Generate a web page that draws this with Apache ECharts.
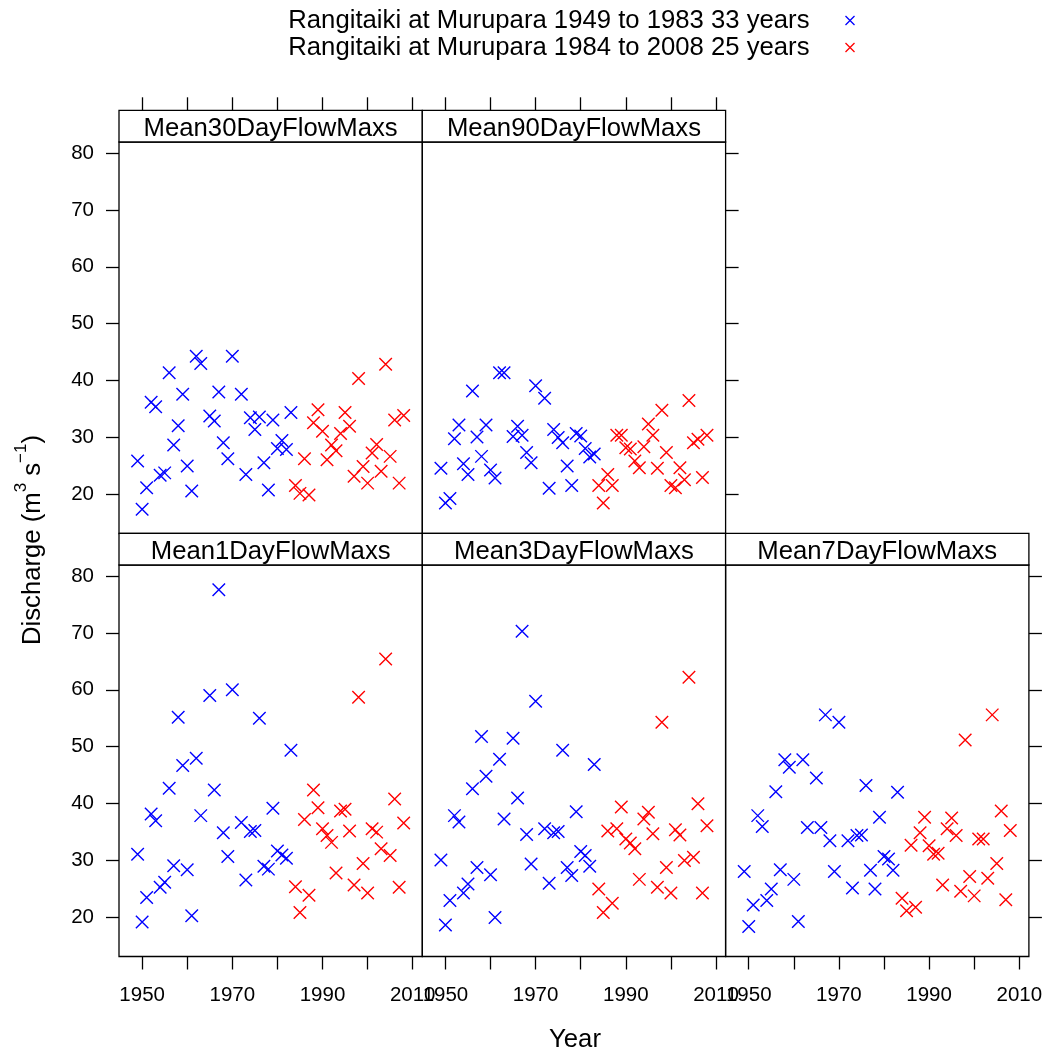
<!DOCTYPE html>
<html>
<head>
<meta charset="utf-8">
<script src="https://cdn.jsdelivr.net/npm/echarts@6/dist/echarts.min.js"></script>
<style>html,body{margin:0;padding:0;background:#fff}#c{width:1052px;height:1054px}</style>
</head>
<body>
<div id="c"></div>
<script>
// ---- data ----
const nameA = 'Rangitaiki at Murupara 1949 to 1983 33 years';
const nameB = 'Rangitaiki at Murupara 1984 to 2008 25 years';
const yearsA = [1949,1950,1951,1952,1953,1954,1955,1956,1957,1958,1959,1960,1961,1962,1963,
                1965,1966,1967,1968,1969,1970,
                1972,1973,1974,1975,1976,1977,1978,1979,1980,1981,1982,1983];
const yearsB = [1984,1985,1986,1987,1988,1989,1990,1991,1992,1993,1994,1995,1996,1997,1998,
                1999,2000,2001,2002,2003,2004,2005,2006,2007,2008];
const panelNames = ['Mean30DayFlowMaxs','Mean90DayFlowMaxs','Mean1DayFlowMaxs','Mean3DayFlowMaxs','Mean7DayFlowMaxs'];
const mean30A = [25.9,17.4,21.2,36.2,35.4,23.4,23.8,41.4,28.7,32.1,37.6,25.0,20.6,44.3,43.0,
                 33.8,32.9,38.0,29.1,26.3,44.3,
                 37.6,23.5,33.5,31.4,33.6,25.6,20.8,33.1,28.1,29.5,27.9,34.4];
const mean30B = [21.6,20.2,26.3,19.9,32.6,34.9,31.1,26.1,28.7,27.7,30.7,34.4,32.0,23.2,40.4,
                 24.9,22.0,27.3,28.8,24.1,42.9,26.7,33.1,22.0,33.9];
const mean90A = [24.6,18.5,19.3,29.8,32.2,25.4,23.5,38.2,30.1,26.7,32.2,24.3,22.9,41.4,41.4,
                 30.2,32.0,30.4,27.4,25.6,39.1,
                 36.9,21.1,31.4,30.0,29.1,25.0,21.6,30.7,30.3,28.1,26.6,27.1];
const mean90B = [21.6,18.5,23.5,21.6,30.4,30.4,28.2,28.0,25.9,24.7,28.4,32.4,30.4,24.6,34.8,
                 27.4,21.6,21.2,24.7,22.6,36.5,29.1,29.7,23.0,30.4];
const mean1A = [31.1,19.2,23.5,38.2,37.0,25.3,26.2,42.7,29.1,55.2,46.7,28.4,20.3,48.0,37.9,
                59.0,42.4,77.6,34.9,30.7,60.0,
                36.7,26.6,35.1,35.3,55.0,29.0,28.5,39.2,31.7,31.0,30.4,49.4];
const mean1B = [25.4,20.9,37.2,23.9,42.4,39.3,35.6,34.4,33.2,27.8,38.7,39.0,35.2,25.7,58.7,
                29.5,24.3,35.6,35.0,32.1,65.4,30.9,40.8,25.3,36.6];
const mean3A = [30.1,18.7,23.0,37.9,36.8,24.3,25.9,42.6,28.8,51.8,44.8,27.5,20.0,47.8,37.3,
                51.5,41.0,70.3,34.6,29.4,58.0,
                35.6,26.0,34.9,35.1,49.4,28.8,27.4,38.6,31.6,30.9,29.0,46.9];
const mean3B = [25.0,20.9,35.2,22.5,35.6,39.4,33.8,33.1,32.1,26.7,37.3,38.5,34.7,25.3,54.3,
                28.8,24.3,35.4,34.5,30.0,62.2,30.6,40.0,24.3,36.1];
const mean7A = [28.1,18.4,22.2,37.9,36.0,23.0,25.0,42.1,28.4,47.7,46.4,26.7,19.3,47.7,35.8,
                44.5,35.8,55.6,33.5,28.1,54.3,
                33.5,25.2,34.4,34.5,43.2,28.3,25.0,37.6,30.7,30.3,28.3,42.0];
const mean7B = [23.4,21.2,32.7,21.8,34.9,37.6,32.6,31.1,31.3,25.7,35.6,37.5,34.4,24.6,51.2,
                27.2,23.8,33.8,33.8,26.9,55.6,29.5,38.7,23.1,35.3];
const xTicks = [1950,1960,1970,1980,1990,2000,2010];
const xTickLabels = [1950,1970,1990,2010];
const yTicks = [20,30,40,50,60,70,80];

// ---- layout / style ----
const FONT = '"Liberation Sans", Arial, Helvetica, sans-serif';
const X_MIN = 1944.87, X_MAX = 2012.13, Y_MIN = 13.15, Y_MAX = 81.93;
const PW = 303.3, PH = 391.5, STRIP = 31.7;
const colL = [119, 422.3, 725.6];
const rowT = [142, 565];
const TICK = 13, LW = 1.3;
const BIG = 25.7;
const CROSS = 'path://M0,0L10,10M10,0L0,10';

const panels = [
  {A: mean30A, B: mean30B, col: 0, row: 0, left: true,  right: false, top: true,  bottom: false},
  {A: mean90A, B: mean90B, col: 1, row: 0, left: false, right: true,  top: true,  bottom: false},
  {A: mean1A,  B: mean1B,  col: 0, row: 1, left: true,  right: false, top: false, bottom: true},
  {A: mean3A,  B: mean3B,  col: 1, row: 1, left: false, right: false, top: false, bottom: true},
  {A: mean7A,  B: mean7B,  col: 2, row: 1, left: false, right: true,  top: false, bottom: true}
];

const grids = [], xAxes = [], yAxes = [], series = [], graphics = [];
const tickStyle = {color: '#000', width: LW};
const labelStyle = {fontSize: 20.5, fontFamily: FONT, color: '#000', formatter: v => String(v)};

panels.forEach((p, i) => {
  const L = colL[p.col], T = rowT[p.row];
  grids.push({left: L, top: T, width: PW, height: PH, show: true, borderColor: '#000',
              borderWidth: LW, backgroundColor: 'transparent', containLabel: false, outerBoundsMode: 'none'});
  const xIdx = xAxes.length, yIdx = yAxes.length;
  xAxes.push({type: 'value', gridIndex: i, position: 'bottom', min: X_MIN, max: X_MAX,
    splitLine: {show: false}, axisLine: {show: false, onZero: false},
    axisTick: {show: p.bottom, length: TICK, customValues: xTicks, lineStyle: tickStyle},
    axisLabel: {show: p.bottom, customValues: xTickLabels, margin: 28, ...labelStyle}});
  yAxes.push({type: 'value', gridIndex: i, position: 'left', min: Y_MIN, max: Y_MAX,
    splitLine: {show: false}, axisLine: {show: false, onZero: false},
    axisTick: {show: p.left, length: TICK, customValues: yTicks, lineStyle: tickStyle},
    axisLabel: {show: p.left, customValues: yTicks, margin: 25, ...labelStyle}});
  if (p.top) {
    xAxes.push({type: 'value', gridIndex: i, position: 'top', offset: STRIP, min: X_MIN, max: X_MAX,
      splitLine: {show: false}, axisLine: {show: false, onZero: false},
      axisTick: {show: true, length: TICK, customValues: xTicks, lineStyle: tickStyle},
      axisLabel: {show: false}});
  }
  if (p.right) {
    yAxes.push({type: 'value', gridIndex: i, position: 'right', min: Y_MIN, max: Y_MAX,
      splitLine: {show: false}, axisLine: {show: false, onZero: false},
      axisTick: {show: true, length: TICK, customValues: yTicks, lineStyle: tickStyle},
      axisLabel: {show: false}});
  }
  [[p.A, yearsA, nameA, '#0000ff'], [p.B, yearsB, nameB, '#ff0000']].forEach(([vals, yrs, nm, col]) => {
    series.push({type: 'scatter', name: nm, xAxisIndex: xIdx, yAxisIndex: yIdx,
      data: yrs.map((y, k) => [y, vals[k]]),
      symbol: CROSS, symbolSize: 12.5,
      itemStyle: {color: 'none', borderColor: col, borderWidth: 1.4, opacity: 1},
      emphasis: {disabled: true}, silent: true, z: 3});
  });
  // strip
  graphics.push({type: 'rect', z: 10, shape: {x: L, y: T - STRIP, width: PW, height: STRIP},
    style: {fill: '#fff', stroke: '#000', lineWidth: LW}});
  graphics.push({type: 'text', z: 11, x: L + PW / 2, y: T - STRIP / 2 + 3,
    style: {text: panelNames[i], fontSize: BIG, fontFamily: FONT, fill: '#000', align: 'center', verticalAlign: 'middle'}});
});

graphics.push({type: 'text', z: 11, x: 575, y: 1040,
  style: {text: 'Year', fontSize: BIG, fontFamily: FONT, fill: '#000', align: 'center', verticalAlign: 'middle'}});
graphics.push({type: 'text', z: 11, x: 33, y: 540, rotation: Math.PI / 2,
  style: {text: 'Discharge (m{sup|3} s{sup|\u22121})', fontSize: BIG, fontFamily: FONT, fill: '#000',
    align: 'center', verticalAlign: 'middle', lineHeight: 40,
    rich: {sup: {fontSize: 17, fontFamily: FONT, fill: '#000', verticalAlign: 'top', lineHeight: 17}}}});

const chart = echarts.init(document.getElementById('c'), null, {renderer: 'canvas'});
chart.setOption({
  animation: false,
  backgroundColor: '#fff',
  legend: {
    orient: 'vertical', align: 'right', right: 1052 - 857, top: 7, padding: 0,
    itemWidth: 9, itemHeight: 9, itemGap: 0, selectedMode: false,
    textStyle: {fontSize: BIG, fontFamily: FONT, color: '#000', lineHeight: 27, padding: [0, 31, 0, 0]},
    data: [
      {name: nameA, icon: CROSS, itemStyle: {color: 'none', borderColor: '#0000ff', borderWidth: 1.3}},
      {name: nameB, icon: CROSS, itemStyle: {color: 'none', borderColor: '#ff0000', borderWidth: 1.3}}
    ]
  },
  grid: grids, xAxis: xAxes, yAxis: yAxes, series: series,
  graphic: {elements: graphics}
});
</script>
</body>
</html>
